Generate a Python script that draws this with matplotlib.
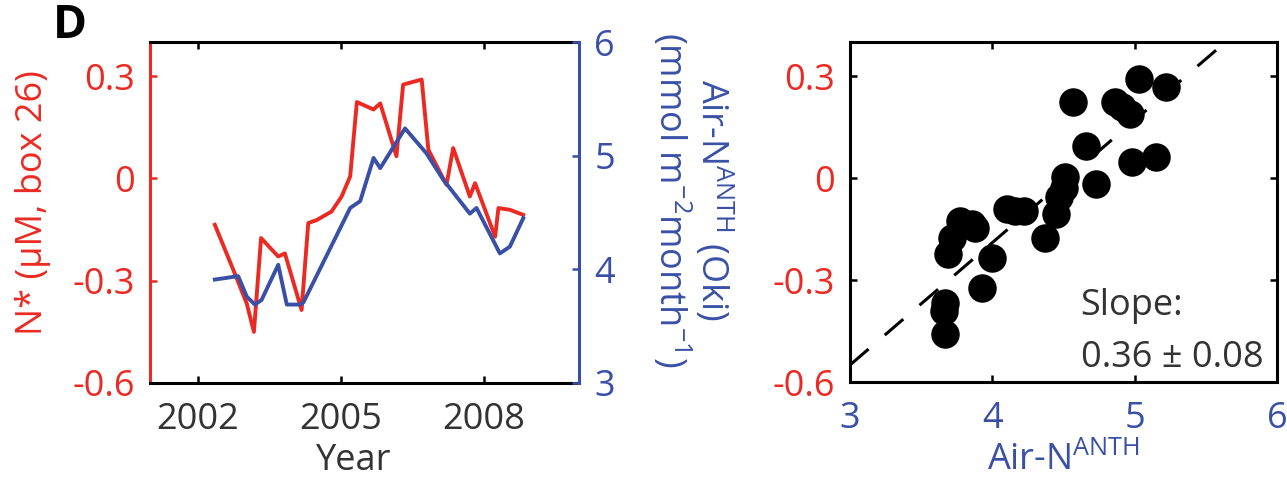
import numpy as np
import matplotlib.pyplot as plt

plt.rcParams['font.family'] = ['Open Sans', 'DejaVu Sans']
plt.rcParams['mathtext.fontset'] = 'custom'
plt.rcParams['mathtext.rm'] = 'Open Sans'
plt.rcParams['mathtext.it'] = 'Open Sans:italic'
plt.rcParams['font.size'] = 26

RED = '#eb2a23'
BLUE = '#3a50a6'
GREY = '#333333'

# N* anomaly in box 26 (time, value)
nstar_year = [2002.36, 2002.75, 2003.03, 2003.18, 2003.33, 2003.69, 2003.83, 2004.18,
              2004.32, 2004.50, 2004.81, 2005.02, 2005.20, 2005.34, 2005.69, 2005.83,
              2006.17, 2006.31, 2006.70, 2006.84, 2007.22, 2007.36, 2007.71, 2007.82,
              2008.24, 2008.31, 2008.55, 2008.83]
nstar_val = [-0.136, -0.269, -0.367, -0.450, -0.175, -0.229, -0.220, -0.386,
             -0.131, -0.122, -0.097, -0.053, 0.006, 0.224, 0.202, 0.220,
             0.065, 0.275, 0.290, 0.084, -0.019, 0.089, -0.053, -0.014,
             -0.171, -0.087, -0.092, -0.107]

# anthropogenic N deposition at Oki (time, value)
air_year = [2002.36, 2002.85, 2003.03, 2003.20, 2003.34, 2003.69, 2003.87, 2004.15,
            2004.22, 2005.20, 2005.41, 2005.69, 2005.83, 2006.35, 2006.80, 2007.15,
            2007.71, 2007.85, 2008.34, 2008.55, 2008.83]
air_val = [3.91, 3.94, 3.76, 3.69, 3.73, 4.04, 3.69, 3.69,
           3.71, 4.54, 4.60, 4.98, 4.89, 5.24, 5.02, 4.79,
           4.49, 4.54, 4.14, 4.20, 4.45]

# paired values for the scatter panel
sc_air = [5.03, 5.22, 4.57, 4.86, 4.91, 4.97, 4.66, 4.98, 5.15, 4.51,
          4.50, 4.73, 4.47, 4.45, 4.10, 4.16, 4.22, 4.37, 3.77, 3.86,
          3.88, 3.72, 3.69, 4.00, 3.93, 3.67, 3.66, 3.67]
sc_nstar = [0.292, 0.267, 0.223, 0.223, 0.208, 0.189, 0.095, 0.046, 0.061, 0.002,
            -0.028, -0.018, -0.057, -0.106, -0.092, -0.097, -0.097, -0.175, -0.126, -0.136,
            -0.146, -0.175, -0.224, -0.234, -0.323, -0.367, -0.392, -0.460]

slope = 0.36
slope_err = 0.08
intercept = -1.63

W, H = 1287, 480
fig = plt.figure(figsize=(W / 100, H / 100), dpi=100)
fig.patch.set_facecolor('white')

# ---- time series panel ----
ax1 = fig.add_axes([150 / W, 1 - 383 / H, 429 / W, 341 / H])
ax2 = ax1.twinx()

ax1.plot(nstar_year, nstar_val, color=RED, lw=2.8, zorder=2)
ax2.plot(air_year, air_val, color=BLUE, lw=2.8, zorder=3)

ax1.set_xlim(2001, 2010)
ax1.set_ylim(-0.6, 0.4)
ax2.set_ylim(3, 6)
ax1.set_xticks([2002, 2005, 2008])
ax1.set_yticks([-0.6, -0.3, 0, 0.3])
ax1.set_yticklabels(['-0.6', '-0.3', '0', '0.3'])
ax2.set_yticks([3, 4, 5, 6])

for s in ['top', 'bottom']:
    ax1.spines[s].set_color('black')
    ax1.spines[s].set_linewidth(2.2)
ax1.spines['left'].set_color(RED)
ax1.spines['left'].set_linewidth(2.2)
ax1.spines['right'].set_visible(False)
for s in ['left', 'top', 'bottom']:
    ax2.spines[s].set_visible(False)
ax2.spines['right'].set_color(BLUE)
ax2.spines['right'].set_linewidth(2.2)

ax1.tick_params(axis='x', direction='in', top=True, length=5, width=1.8,
                colors='black', labelcolor=GREY, pad=14)
ax1.tick_params(axis='y', direction='in', length=5, width=1.8,
                colors=RED, labelcolor=RED, pad=11)
ax2.tick_params(axis='y', direction='in', length=5, width=1.8,
                colors=BLUE, labelcolor=BLUE, pad=11)

fig.text(354 / W, 1 / H, 'Year', ha='center', va='bottom', color=GREY)
fig.text(33 / W, 1 - 203 / H, 'N* (μM, box 26)', rotation=90,
         ha='center', va='center', color=RED)
fig.text(692 / W, 1 - 200 / H,
         'Air-N$^{\\mathrm{ANTH}}$ (Oki)\n(mmol m$^{\\mathrm{-2}}$month$^{\\mathrm{-1}}$)',
         rotation=270, ha='center', va='center', multialignment='center',
         color=BLUE, linespacing=1.0)
fig.text(53 / W, 1 - 2 / H, 'D', ha='left', va='top', weight='bold',
         fontsize=33, color='black')

# ---- scatter panel ----
ax3 = fig.add_axes([850 / W, 1 - 382 / H, 427 / W, 340 / H])
ax3.plot(sc_air, sc_nstar, 'o', color='black', markersize=19.5, zorder=3)
fit_x = np.array([3.0, 6.0])
ax3.plot(fit_x, slope * fit_x + intercept, color='black', lw=2.2,
         dashes=(8, 7), zorder=2)

ax3.set_xlim(3, 6)
ax3.set_ylim(-0.6, 0.4)
ax3.set_xticks([3, 4, 5, 6])
ax3.set_yticks([-0.6, -0.3, 0, 0.3])
ax3.set_yticklabels(['-0.6', '-0.3', '0', '0.3'])
for s in ax3.spines.values():
    s.set_color('black')
    s.set_linewidth(2.2)
ax3.tick_params(axis='x', direction='in', top=True, length=5, width=1.8,
                colors='black', labelcolor=BLUE, pad=14)
ax3.tick_params(axis='y', direction='in', right=True, length=5, width=1.8,
                colors='black', labelcolor=RED, pad=11)

ax3.text(4.62, -0.403, 'Slope:', ha='left', va='baseline', color=GREY, fontsize=26)
ax3.text(4.62, -0.556, f'{slope:.2f} ± {slope_err:.2f}', ha='left', va='baseline',
         color=GREY, fontsize=26)

fig.text(1063 / W, 1 / H, 'Air-N$^{\\mathrm{ANTH}}$', ha='center', va='bottom',
         color=BLUE)

fig.savefig('out.png', dpi=100)
